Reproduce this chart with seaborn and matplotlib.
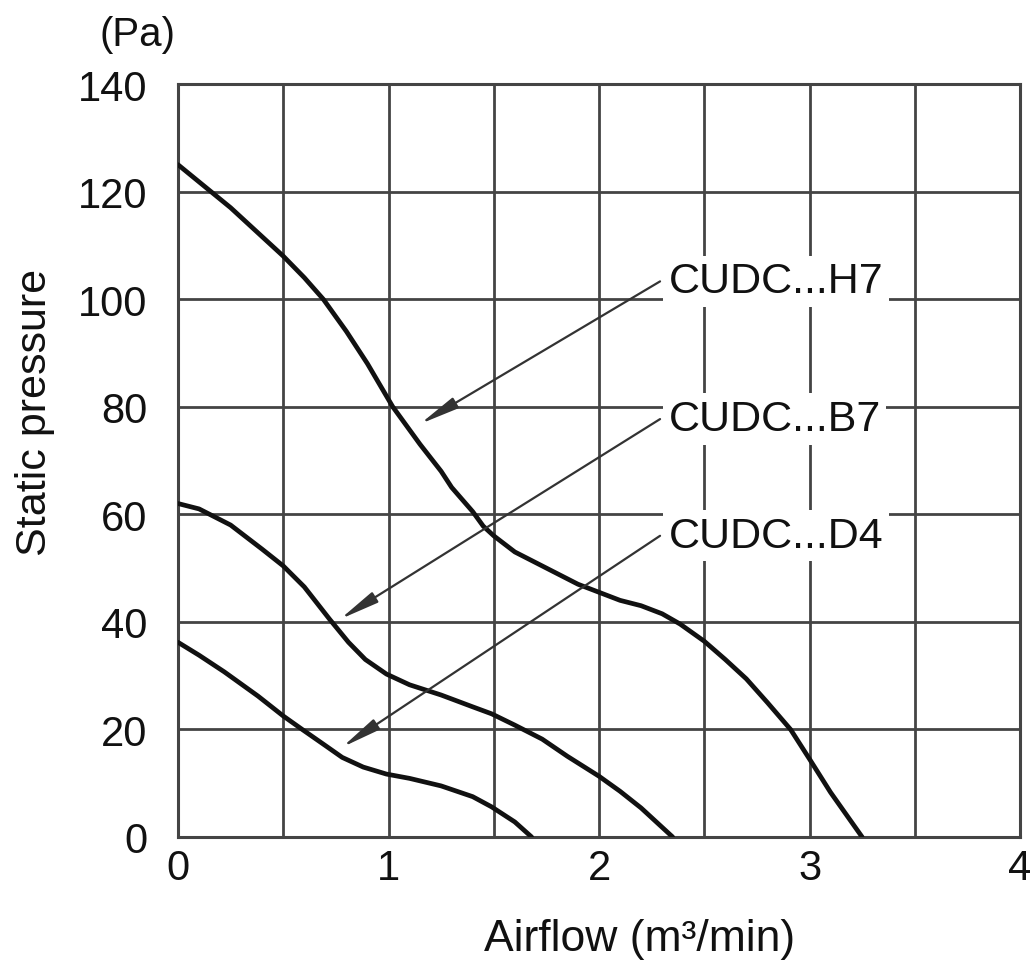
import matplotlib
matplotlib.use("Agg")
import matplotlib.pyplot as plt
import numpy as np
import pandas as pd
import seaborn as sns

# values
h7_flow = [0.0, 0.125, 0.25, 0.375, 0.5, 0.6, 0.69, 0.8, 0.9, 1.02, 1.15, 1.25, 1.3, 1.4,
           1.45, 1.5, 1.6, 1.75, 1.9, 2.0, 2.1, 2.2, 2.3, 2.385, 2.5, 2.6, 2.7, 2.8, 2.91,
           3.0, 3.1, 3.25]
h7_pressure = [125, 121, 117, 112.5, 108, 104, 100, 94, 88, 80, 73, 68, 65, 60.5,
               57.8, 56, 53, 50, 47, 45.5, 44, 43, 41.5, 39.6, 36.4, 33, 29.4, 25, 20,
               14.5, 8.3, 0]

b7_flow = [0.0, 0.1, 0.25, 0.4, 0.5, 0.6, 0.72, 0.81, 0.89, 0.99, 1.1, 1.25, 1.4, 1.49,
           1.6, 1.73, 1.85, 2.0, 2.1, 2.2, 2.35]
b7_pressure = [62, 61, 58, 53.5, 50.4, 46.5, 40.5, 36.2, 33, 30.3, 28.3, 26.4, 24.2, 22.9,
               20.8, 18.2, 15, 11.3, 8.5, 5.4, 0]

d4_flow = [0.0, 0.1, 0.22, 0.38, 0.5, 0.59, 0.7, 0.78, 0.88, 0.99, 1.1, 1.25, 1.4, 1.49,
           1.6, 1.68]
d4_pressure = [36.2, 33.8, 30.7, 26.2, 22.5, 20, 17, 14.8, 13, 11.7, 10.9, 9.5, 7.5, 5.6,
               2.8, 0]

models = ["CUDC...H7", "CUDC...B7", "CUDC...D4"]
# (label anchor, arrow tip) in data units
label_pos = [(2.33, 103.3), (2.33, 77.7), (2.33, 56.0)]
arrow_tip = [(1.15, 76.8), (0.77, 40.5), (0.78, 16.7)]

x_ticks = [0, 1, 2, 3, 4]
y_ticks = [0, 20, 40, 60, 80, 100, 120, 140]


def main() -> None:
    sns.set_theme(style="white")
    plt.rcParams["font.family"] = ["Liberation Sans", "DejaVu Sans"]

    df = pd.concat([
        pd.DataFrame({"flow": h7_flow, "pressure": h7_pressure, "model": models[0]}),
        pd.DataFrame({"flow": b7_flow, "pressure": b7_pressure, "model": models[1]}),
        pd.DataFrame({"flow": d4_flow, "pressure": d4_pressure, "model": models[2]}),
    ])

    fig = plt.figure(figsize=(10.32, 9.70), dpi=100)
    ax = fig.add_axes([178 / 1032, 132 / 970, 842 / 1032, 753 / 970])

    sns.lineplot(data=df, x="flow", y="pressure", hue="model", units="model", estimator=None,
                 sort=False, palette=["#111111"] * 3, linewidth=3.4, legend=False, ax=ax,
                 solid_joinstyle="round", solid_capstyle="round", zorder=4)

    ax.set_xlim(0, 4)
    ax.set_ylim(0, 140)
    ax.set_xticks(x_ticks)
    ax.set_xticks(np.arange(0.5, 4, 1.0), minor=True)
    ax.set_yticks(y_ticks)
    ax.tick_params(axis="both", which="both", length=0, labelsize=30, colors="#111111")
    ax.tick_params(axis="x", pad=8)
    ax.tick_params(axis="y", pad=22)
    ax.grid(True, which="both", color="#444444", linewidth=2.0)
    for s in ax.spines.values():
        s.set_color("#444444")
        s.set_linewidth(2.2)

    for name, (lx, ly), (tx, ty) in zip(models, label_pos, arrow_tip):
        ax.annotate("", xy=(tx, ty), xytext=(lx - 0.04, ly),
                    arrowprops=dict(arrowstyle="-|>,head_length=1.2,head_width=0.18",
                                    mutation_scale=20, color="#333333", lw=1.6,
                                    shrinkA=0, shrinkB=0),
                    zorder=5)
        ax.text(lx, ly, name, fontsize=31, ha="left", va="center", color="#111111", zorder=3,
                bbox=dict(facecolor="white", edgecolor="none", pad=4))

    ax.set_xlabel("")
    ax.set_ylabel("")
    fig.text(640 / 1032, 1 - 940 / 970, "Airflow (m³/min)", fontsize=32, ha="center", va="center",
             color="#111111")
    fig.text(35 / 1032, 1 - 412 / 970, "Static pressure", fontsize=31, rotation=90, ha="center",
             va="center", color="#111111")
    fig.text(138 / 1032, 1 - 35 / 970, "(Pa)", fontsize=29, ha="center", va="center", color="#111111")

    fig.savefig("out.png", dpi=100, facecolor="white")
    plt.close(fig)


if __name__ == "__main__":
    main()
